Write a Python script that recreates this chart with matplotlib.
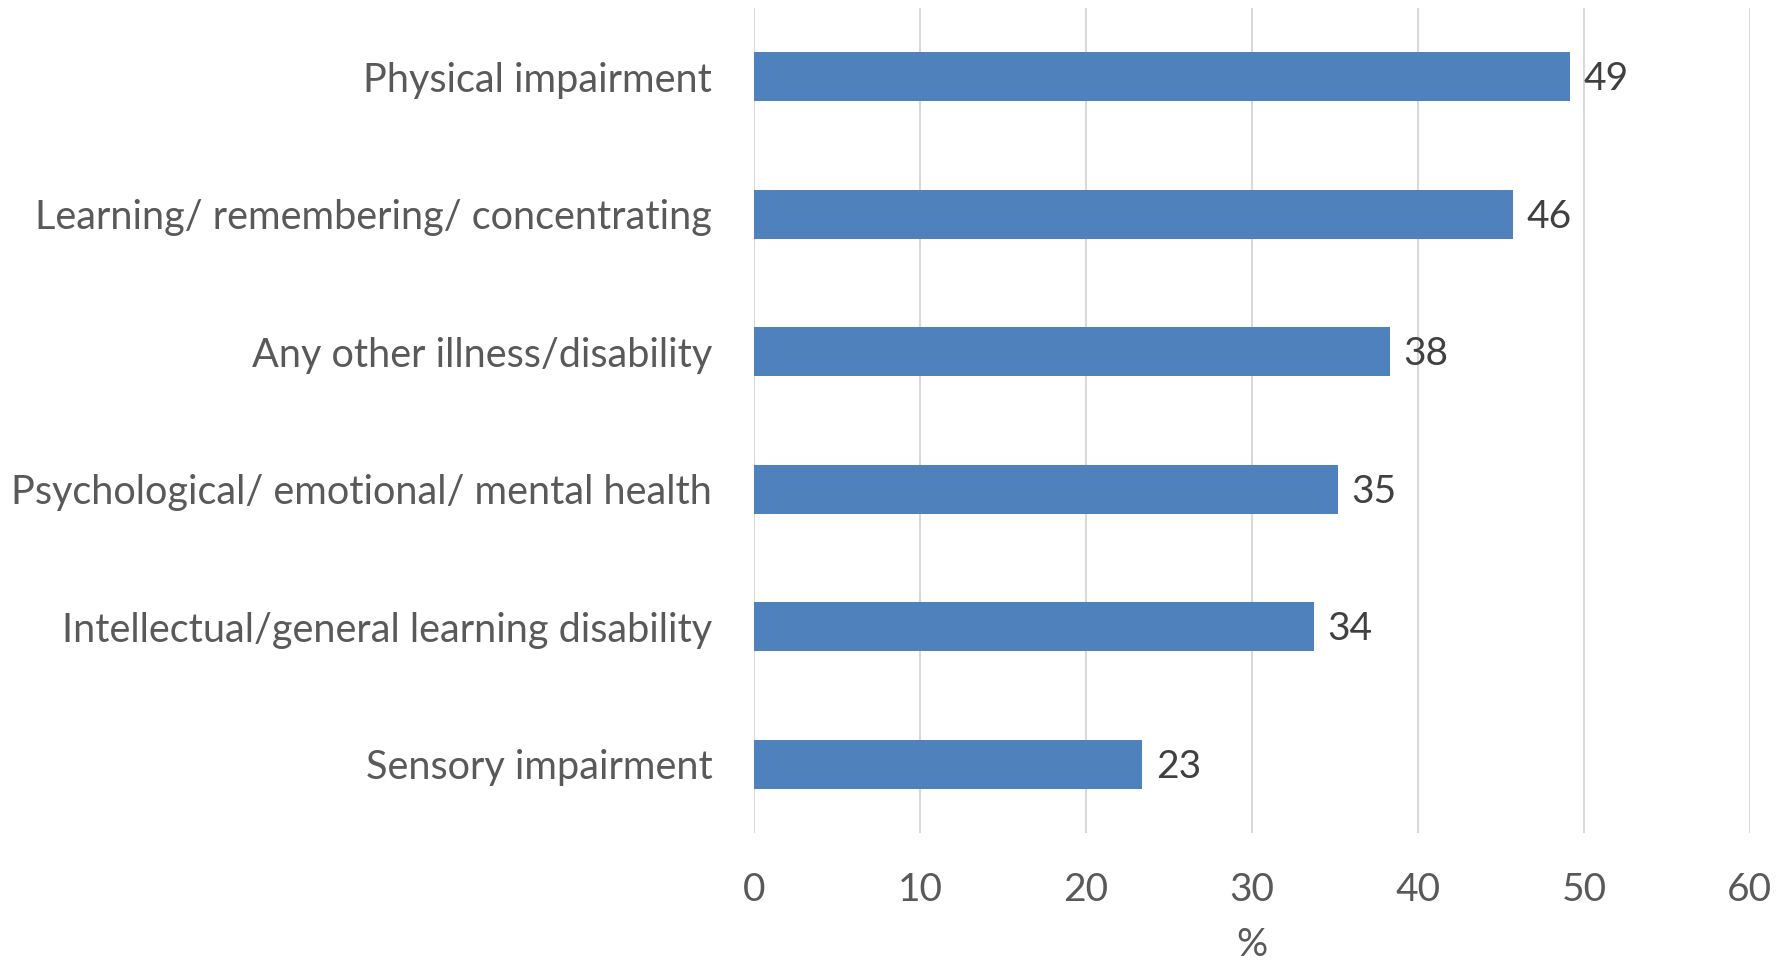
import matplotlib.pyplot as plt

categories = [
    "Physical impairment",
    "Learning/ remembering/ concentrating",
    "Any other illness/disability",
    "Psychological/ emotional/ mental health",
    "Intellectual/general learning disability",
    "Sensory impairment",
]
values = [49.15, 45.75, 38.3, 35.2, 33.75, 23.4]
xticks = [0, 10, 20, 30, 40, 50, 60]

plt.rcParams["font.family"] = ["Lato", "DejaVu Sans"]

fig = plt.figure(figsize=(17.88, 9.63), dpi=100)
ax = fig.add_axes([0.4217, 0.135, 0.557, 0.8567])

ypos = list(range(len(categories)))[::-1]
bars = ax.barh(ypos, values, height=0.355, color="#4F81BD", zorder=3)

for y, v in zip(ypos, values):
    ax.text(v + 0.8, y - 0.02, f"{v:.0f}", va="center", ha="left", fontsize=28, color="#404040")

ax.set_xlim(0, 60)
ax.set_ylim(-0.5, len(categories) - 0.5)
ax.set_xticks(xticks)
ax.set_xticklabels([str(t) for t in xticks])
ax.set_yticks(ypos)
ax.set_yticklabels(categories)
ax.tick_params(axis="y", length=0, pad=30, labelsize=28.5, labelcolor="#595959")
ax.tick_params(axis="x", length=0, pad=28, labelsize=28, labelcolor="#595959")
ax.xaxis.grid(True, color="#D9D9D9", linewidth=1.5, zorder=0)
for s in ax.spines.values():
    s.set_visible(False)
ax.set_xlabel("%", fontsize=28, color="#595959", labelpad=14)

fig.savefig("out.png", dpi=100, facecolor="white")
